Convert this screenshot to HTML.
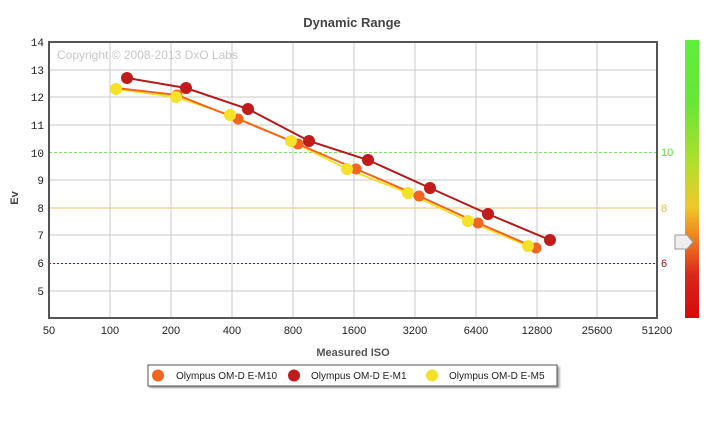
<!DOCTYPE html>
<html><head><meta charset="utf-8"><style>
body{margin:0;background:#fff;}
svg{display:block;font-family:"Liberation Sans",sans-serif;}
</style></head><body>
<svg width="720" height="421" viewBox="0 0 720 421">
<defs>
<linearGradient id="cb" x1="0" y1="0" x2="0" y2="1">
<stop offset="0" stop-color="#5ef03a"/>
<stop offset="0.22" stop-color="#66e637"/>
<stop offset="0.45" stop-color="#b5de2c"/>
<stop offset="0.6" stop-color="#f0c82a"/>
<stop offset="0.72" stop-color="#ee7a1e"/>
<stop offset="0.85" stop-color="#d8261a"/>
<stop offset="1" stop-color="#d50a0a"/>
</linearGradient>
<filter id="sh"><feDropShadow dx="2" dy="2" stdDeviation="1.2" flood-opacity="0.4"/></filter>
</defs>
<text x="352" y="27" text-anchor="middle" font-size="13" font-weight="bold" fill="#444">Dynamic Range</text>
<g stroke="#c8c8c8" stroke-width="1">
<line x1="49" y1="70" x2="657" y2="70"/><line x1="49" y1="97" x2="657" y2="97"/>
<line x1="49" y1="125" x2="657" y2="125"/><line x1="49" y1="180" x2="657" y2="180"/>
<line x1="49" y1="235" x2="657" y2="235"/><line x1="49" y1="291" x2="657" y2="291"/>
<line x1="110" y1="42" x2="110" y2="318"/><line x1="171" y1="42" x2="171" y2="318"/>
<line x1="232" y1="42" x2="232" y2="318"/><line x1="293" y1="42" x2="293" y2="318"/>
<line x1="354" y1="42" x2="354" y2="318"/><line x1="415" y1="42" x2="415" y2="318"/>
<line x1="476" y1="42" x2="476" y2="318"/><line x1="537" y1="42" x2="537" y2="318"/>
<line x1="597" y1="42" x2="597" y2="318"/>
</g>
<line x1="49" y1="152.5" x2="657" y2="152.5" stroke="#7ee06a" stroke-dasharray="3,2"/>
<line x1="49" y1="208" x2="657" y2="208" stroke="#f5c070"/>
<line x1="49" y1="263.5" x2="657" y2="263.5" stroke="#a01010" stroke-dasharray="2,2"/>
<rect x="49" y="42" width="608" height="276" fill="none" stroke="#555" stroke-width="2"/>
<text x="57" y="59" font-size="12" fill="#c8c8c8">Copyright © 2008-2013 DxO Labs</text>
<g font-size="11" fill="#222" text-anchor="end" font-family="Liberation Mono,monospace">
<text x="44" y="46">14</text><text x="44" y="74">13</text><text x="44" y="101">12</text>
<text x="44" y="129">11</text><text x="44" y="157">10</text><text x="44" y="184">9</text>
<text x="44" y="212">8</text><text x="44" y="239">7</text><text x="44" y="267">6</text>
<text x="44" y="295">5</text>
</g>
<g font-size="11" fill="#222" text-anchor="middle">
<text x="49" y="334">50</text><text x="110" y="334">100</text><text x="171" y="334">200</text>
<text x="232" y="334">400</text><text x="293" y="334">800</text><text x="354" y="334">1600</text>
<text x="415" y="334">3200</text><text x="476" y="334">6400</text><text x="537" y="334">12800</text>
<text x="597" y="334">25600</text><text x="657" y="334">51200</text>
</g>
<text x="353" y="356" text-anchor="middle" font-size="11" font-weight="bold" fill="#555">Measured ISO</text>
<text transform="translate(18,198) rotate(-90)" text-anchor="middle" font-size="11" font-weight="bold" fill="#444">Ev</text>
<g font-size="11">
<text x="661" y="156" fill="#66dd33">10</text>
<text x="661" y="212" fill="#f5c040">8</text>
<text x="661" y="267" fill="#b01515">6</text>
</g>
<rect x="685" y="40" width="14" height="278" fill="url(#cb)"/>
<path d="M675,235 h12 l6,7 l-6,7 h-12 z" fill="#eee" stroke="#999"/>
<!-- E-M5 yellow -->
<polyline fill="none" stroke="#f5e02a" stroke-width="2" points="116,89 176,97 230,115 291,141 347,169 408,193 468,221 528,246"/>
<!-- E-M10 orange -->
<polyline fill="none" stroke="#f26522" stroke-width="2" points="116,88 177,95 238,119 298,144 356,169 419,196 478,223 536,248"/>
<!-- E-M1 dark red -->
<polyline fill="none" stroke="#b51a1a" stroke-width="2" points="127,78 186,88 248,109 309,141 368,160 430,188 488,214 550,240"/>
<g fill="#f26522">
<circle cx="177" cy="95" r="5.5"/><circle cx="238" cy="119" r="5.5"/><circle cx="298" cy="144" r="5.5"/><circle cx="356" cy="169" r="5.5"/><circle cx="419" cy="196" r="5.5"/><circle cx="478" cy="223" r="5.5"/><circle cx="536" cy="248" r="5.5"/>
</g>
<g fill="#f5e02a">
<circle cx="116" cy="89" r="6"/><circle cx="176" cy="97" r="6"/><circle cx="230" cy="115" r="6"/><circle cx="291" cy="141" r="6"/><circle cx="347" cy="169" r="6"/><circle cx="408" cy="193" r="6"/><circle cx="468" cy="221" r="6"/><circle cx="528" cy="246" r="6"/>
</g>
<g fill="#c01c1c">
<circle cx="127" cy="78" r="6"/><circle cx="186" cy="88" r="6"/><circle cx="248" cy="109" r="6"/><circle cx="309" cy="141" r="6"/><circle cx="368" cy="160" r="6"/><circle cx="430" cy="188" r="6"/><circle cx="488" cy="214" r="6"/><circle cx="550" cy="240" r="6"/>
</g>
<rect x="148" y="365" width="409" height="21" fill="#fff" stroke="#555" filter="url(#sh)"/>
<circle cx="158" cy="375.5" r="6" fill="#f26522"/>
<circle cx="294" cy="375.5" r="6" fill="#c01c1c"/>
<circle cx="432" cy="375.5" r="6" fill="#f5e02a"/>
<g font-size="10" fill="#222">
<text x="176" y="379">Olympus OM-D E-M10</text>
<text x="311" y="379">Olympus OM-D E-M1</text>
<text x="449" y="379">Olympus OM-D E-M5</text>
</g>
</svg>
</body></html>
